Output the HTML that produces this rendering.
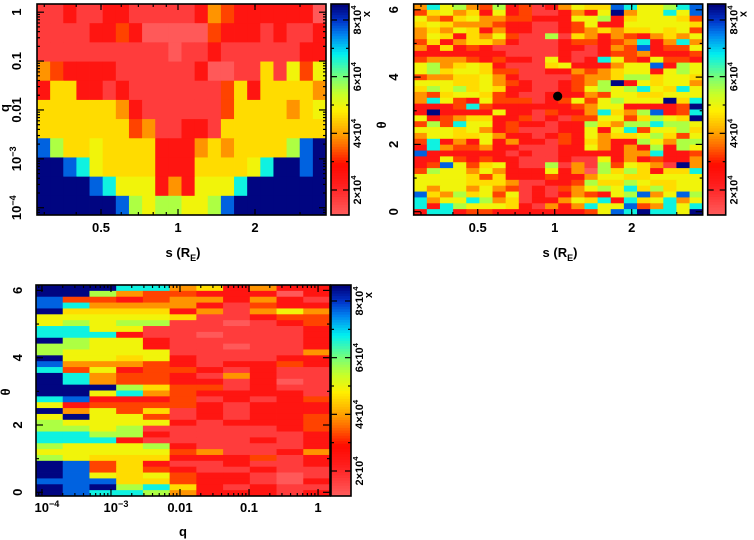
<!DOCTYPE html>
<html><head><meta charset="utf-8"><style>
html,body{margin:0;padding:0;background:#fff;}
svg{display:block;font-family:"Liberation Sans",sans-serif;font-weight:bold;}
</style></head><body>
<svg id="fig" width="754" height="540" viewBox="0 0 754 540" xmlns="http://www.w3.org/2000/svg"></svg>
<script>
// value lookup for cell codes (units of 1e4)
const CODE_VALUES = {'0':1.2,'1':1.7,'2':2.5,'3':3.3,'4':3.9,'5':4.6,'6':4.95,'7':5.6,'8':6.7,'9':7.7,'n':8.5};
// Panel 1: rows from q high (top) to q low (bottom), 22 s-bins each
const p1Rows = [
"1121122111112432222220","1111223200000322212112","1111111111011211111122",
"4322221111112001151636","2552212111111135255554","5555554211111135555456",
"5555555341122155555555","975565555222454555579n","nn9865555222555568nn9n",
"nnnn986662426668nnnnnn","nnnnnn976776679nnnnnnn"];
// Panel 2: rows from theta high (top) to low, 22 s-bins each
const p2Rows = [
"4867437231246559866789","356452623112426n466869","6435644332226672566653",
"5654443221123622666665","4546524221123454556563","4652546311715424324546",
"3524554211123323482484","4252321111122124392336","2222222111121123342223",
"3444323221621286326332","6745652111562224669276","6756653311224345662676",
"3445564211113445775665","666556432112347n265664","5767565221123676786586",
"4356653211222436655666","4863263331236367666n58","222383222222346622223n",
"2n22226221322485479238","623455223121336635765n","3738662322122754778776",
"6665642311122626836675","4665564221232645567536","3824262422132542276477",
"2843342211122642427276","9222222121122222448223","2263232211121162423224",
"23963562117141736541n4","3766464222624075752558","6666535222322466556666",
"6666555411223755765566","6466464312134676857566","9547563612124326794697",
"8466874512246582856846","8287666521424866934868","28823322222223698n886n"];
// Panel 3: rows from theta high (top) to low, 11 q-bins each
const p3Rows = [
"nnn88452422","nn743322202","93323442421","98444421322","n5555241464","66666511233",
"67677110123","88661111112","88821101112","n7662111112","77662110112","76666111114",
"n6656211122","94443212232","83623321211","n8433214211","n8433221201","nnn75331211",
"nn684322221","89222312123","62333321222","n4635121222","6n663121223","76666212223",
"77671111123","88772111112","88821111212","76667211112","66666341124","76555222312",
"n9352112112","n9353211211","n9656322101","99955322102","n9n78521211","n9887422212"];
const p1XTicks = [0.5, 1, 2];
const p1XTickLabels = ["0.5", "1", "2"];
const qTicks = [1, 0.1, 0.01, 0.001, 0.0001];
const qTickLabels = ["1", "0.1", "0.01", "10|−3", "10|−4"];
const thetaTicks = [0, 2, 4, 6];
const thetaTickLabels = ["0", "2", "4", "6"];
const cbarTicks = [2, 4, 6, 8];
const cbarTickLabels = ["2×10|4", "4×10|4", "6×10|4", "8×10|4"];
const marker = {s: 1.027, theta: 3.43};

const NS = "http://www.w3.org/2000/svg";
const svg = document.getElementById('fig');
function mk(tag, attrs, parent) {
  const e = document.createElementNS(NS, tag);
  for (const k in attrs) e.setAttribute(k, attrs[k]);
  (parent || svg).appendChild(e);
  return e;
}
const decode = rows => rows.map(r => r.split('').map(c => CODE_VALUES[c]));
const stops = [[1.1,255,95,95],[2.2,255,30,30],[2.9,255,10,0],[3.6,255,110,0],[4.0,255,160,0],[4.8,255,240,0],[5.4,200,255,40],[6.0,120,255,120],[6.8,0,240,240],[7.5,0,130,240],[8.0,0,50,200],[8.56,0,0,120]];
function cmap(v) {
  if (v <= stops[0][0]) return `rgb(${stops[0][1]},${stops[0][2]},${stops[0][3]})`;
  for (let i = 1; i < stops.length; i++) {
    if (v <= stops[i][0]) {
      const a = stops[i-1], b = stops[i], t = (v - a[0]) / (b[0] - a[0]);
      return `rgb(${Math.round(a[1]+t*(b[1]-a[1]))},${Math.round(a[2]+t*(b[2]-a[2]))},${Math.round(a[3]+t*(b[3]-a[3]))})`;
    }
  }
  const l = stops[stops.length-1]; return `rgb(${l[1]},${l[2]},${l[3]})`;
}
function logScale(d0, d1, r0, r1) { const a = Math.log10(d0), b = Math.log10(d1); return v => r0 + (Math.log10(v) - a) / (b - a) * (r1 - r0); }
function linScale(d0, d1, r0, r1) { return v => r0 + (v - d0) / (d1 - d0) * (r1 - r0); }

function addText(g, x, y, label, rot, size, name) {
  const parts = label.split('|');
  const t = mk('text', {x: x, y: y, 'font-size': size, 'text-anchor': 'middle', fill: '#000'}, g);
  if (rot) t.setAttribute('transform', `rotate(-90 ${x} ${y})`);
  
  
  t.appendChild(document.createTextNode(parts[0]));
  if (parts[1]) { const s = mk('tspan', {dy: -5, 'font-size': size * 0.7}, t); s.textContent = parts[1]; }
  return t;
}

function drawHeat(g, data, x0, x1, y0, y1, name) {
  const nr = data.length, nc = data[0].length;
  const xs = linScale(0, nc, x0, x1), ys = linScale(0, nr, y0, y1);
  data.forEach((row, j) => row.forEach((v, i) => {
    const r = mk('rect', {x: xs(i), y: ys(j), width: xs(i+1) - xs(i) + 0.4, height: ys(j+1) - ys(j) + 0.4, fill: cmap(v)}, g);
    
    
  }));
}

function frame(g, x0, x1, y0, y1, name) {
  const f = mk('rect', {x: x0, y: y0, width: x1 - x0, height: y1 - y0, fill: 'none', stroke: '#000', 'stroke-width': 1.6}, g);
  
  
}
function tickLine(g, x1, y1, x2, y2) { mk('line', {x1, y1, x2, y2, stroke: '#000', 'stroke-width': 1.2}, g); }

function xTicks(g, sc, vals, len, y0, y1) { vals.forEach(v => { const x = sc(v); tickLine(g, x, y1, x, y1 - len); tickLine(g, x, y0, x, y0 + len); }); }
function yTicks(g, sc, vals, len, x0, x1) { vals.forEach(v => { const y = sc(v); tickLine(g, x0, y, x0 + len, y); tickLine(g, x1, y, x1 - len, y); }); }
function logMinors(lo, hi) { const out = []; for (let e = -6; e <= 2; e++) for (let m = 2; m <= 9; m++) { const v = m * Math.pow(10, e); if (v > lo && v < hi) out.push(v); } return out; }

function colorbar(g, x0, x1, y0, y1, name) {
  const cy = linScale(2, 8, 190, 20);
  const off = y0 - 4;
  const vmin = 1.12, vmax = 8.56, n = 80;
  for (let i = 0; i < n; i++) {
    const v = vmin + (i + 0.5) / n * (vmax - vmin);
    const ya = cy(vmin + (i + 1) / n * (vmax - vmin)) + off, yb = cy(vmin + i / n * (vmax - vmin)) + off;
    mk('rect', {x: x0, y: ya, width: x1 - x0, height: yb - ya + 0.5, fill: cmap(v)}, g);
  }
  frame(g, x0, x1, y0, y1, name);
  [3, 5, 7].forEach(v => { const y = cy(v) + off; tickLine(g, x0, y, x0 + 3, y); tickLine(g, x1, y, x1 - 3, y); });
  cbarTicks.forEach((v, i) => { const y = cy(v) + off; tickLine(g, x0, y, x0 + 6, y); tickLine(g, x1, y, x1 - 6, y);
    addText(g, x1 + 12, y, cbarTickLabels[i], true, 11, name + '-tick-label'); });
  addText(g, x1 + 21, y0 + 10, "x", true, 11, name + '-unit');
}

// ---------- Panel 1 ----------
(function(){
  const g = mk('g', {});  
  const X0 = 37, X1 = 326, Y0 = 4, Y1 = 215;
  const xs = logScale(0.281, 3.79, X0, X1), ys = logScale(7.1e-5, 1.47, Y1, Y0);
  drawHeat(g, decode(p1Rows), X0, X1, Y0, Y1, 'heatmap-q-s');
  frame(g, X0, X1, Y0, Y1, 'plot-frame');
  xTicks(g, xs, logMinors(0.281, 3.79), 3, Y0, Y1); xTicks(g, xs, p1XTicks, 6, Y0, Y1);
  yTicks(g, ys, logMinors(7.1e-5, 1.47), 3, X0, X1); yTicks(g, ys, qTicks, 7, X0, X1);
  p1XTicks.forEach((v, i) => addText(g, xs(v), 232, p1XTickLabels[i], false, 13, 'x-tick-label'));
  qTicks.forEach((v, i) => addText(g, 21, ys(v), qTickLabels[i], true, 13, 'y-tick-label'));
  const xl = addText(g, 183, 257, "s (R", false, 13, 'x-axis-title');
  const sub = mk('tspan', {dy: 4, 'font-size': 9}, xl); sub.textContent = 'E';
  const cl = mk('tspan', {dy: -4}, xl); cl.textContent = ')';
  addText(g, 9, 108, "q", true, 13, 'y-axis-title');
  colorbar(g, 331, 349, Y0, Y1, 'colorbar-1');
})();

// ---------- Panel 2 ----------
(function(){
  const g = mk('g', {});  
  const X0 = 413.7, X1 = 702.7, Y0 = 4, Y1 = 215;
  const xs = logScale(0.281, 3.79, X0, X1), ys = linScale(0, 1, 211.7, 178.05);
  drawHeat(g, decode(p2Rows), X0, X1, Y0, Y1, 'heatmap-theta-s');
  frame(g, X0, X1, Y0, Y1, 'plot-frame');
  xTicks(g, xs, logMinors(0.281, 3.79), 3, Y0, Y1); xTicks(g, xs, p1XTicks, 6, Y0, Y1);
  yTicks(g, ys, [1, 3, 5], 3, X0, X1); yTicks(g, ys, thetaTicks, 7, X0, X1);
  p1XTicks.forEach((v, i) => addText(g, xs(v), 232, p1XTickLabels[i], false, 13, 'x-tick-label'));
  thetaTicks.forEach((v, i) => addText(g, 398, ys(v), thetaTickLabels[i], true, 13, 'y-tick-label'));
  const xl = addText(g, 560, 257, "s (R", false, 13, 'x-axis-title');
  const sub = mk('tspan', {dy: 4, 'font-size': 9}, xl); sub.textContent = 'E';
  const cl = mk('tspan', {dy: -4}, xl); cl.textContent = ')';
  addText(g, 386, 125, "θ", true, 13, 'y-axis-title');
  const dot = mk('circle', {cx: xs(marker.s), cy: ys(marker.theta), r: 4.6, fill: '#000'}, g);
   
  colorbar(g, 707.7, 725.7, Y0, Y1, 'colorbar-2');
})();

// ---------- Panel 3 ----------
(function(){
  const g = mk('g', {});  
  const X0 = 36, X1 = 330, Y0 = 285, Y1 = 496;
  const xs = logScale(8.2e-5, 1.49, X0, X1), ys = linScale(0, 1, 492.3, 458.65);
  drawHeat(g, decode(p3Rows), X0, X1, Y0, Y1, 'heatmap-theta-q');
  frame(g, X0, X1, Y0, Y1, 'plot-frame');
  xTicks(g, xs, logMinors(8.2e-5, 1.49), 3, Y0, Y1); xTicks(g, xs, qTicks, 7, Y0, Y1);
  yTicks(g, ys, [1, 3, 5], 3, X0, X1); yTicks(g, ys, thetaTicks, 7, X0, X1);
  qTicks.forEach((v, i) => addText(g, xs(v) + (v < 0.005 ? 5 : 0), 512, qTickLabels[i], false, 13, 'x-tick-label'));
  thetaTicks.forEach((v, i) => addText(g, 22, ys(v), thetaTickLabels[i], true, 13, 'y-tick-label'));
  addText(g, 183, 536, "q", false, 13, 'x-axis-title');
  addText(g, 10, 392, "θ", true, 13, 'y-axis-title');
  colorbar(g, 331, 351, Y0, Y1, 'colorbar-3');
})();
</script>
</body></html>
